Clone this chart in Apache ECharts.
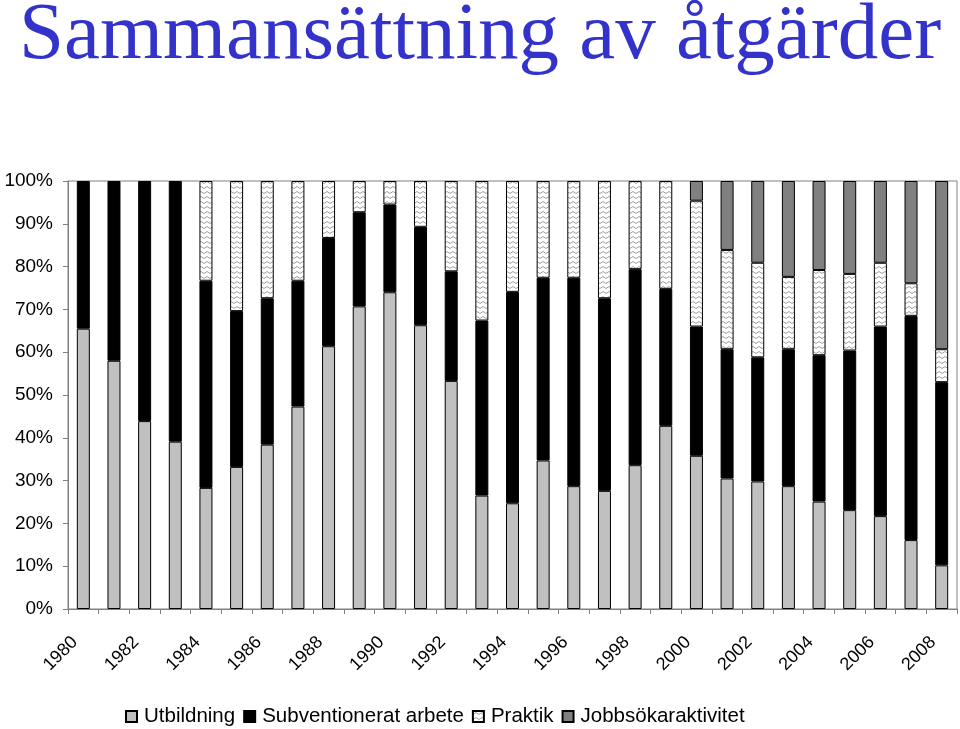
<!DOCTYPE html>
<html>
<head>
<meta charset="utf-8">
<script src="https://cdn.jsdelivr.net/npm/echarts@6/dist/echarts.min.js"></script>
<style>
html,body{margin:0;padding:0;background:#fff;}
#chart{width:960px;height:729px;}
</style>
</head>
<body>
<div id="chart"></div>
<script>
const titleText = 'Sammansättning av åtgärder';
const categories = ['1980','1981','1982','1983','1984','1985','1986','1987','1988','1989','1990','1991','1992','1993','1994','1995','1996','1997','1998','1999','2000','2001','2002','2003','2004','2005','2006','2007','2008'];
const seriesNames = ['Utbildning','Subventionerat arbete','Praktik','Jobbsökaraktivitet'];
const utbildning = [65.5,58.0,43.9,39.1,28.3,33.2,38.4,47.3,61.4,70.7,74.0,66.3,53.3,26.5,24.7,34.7,28.7,27.6,33.6,42.8,35.8,30.5,29.8,28.7,25.1,23.1,21.7,16.1,10.2];
const subventionerat = [34.5,42.0,56.1,60.9,48.4,36.4,34.2,29.4,25.3,22.0,20.5,23.0,25.6,40.9,49.4,42.7,48.7,45.0,45.8,32.0,30.2,30.2,29.0,32.0,34.2,37.3,44.3,52.4,42.8];
const praktik = [null,null,null,null,23.3,30.4,27.4,23.3,13.3,7.3,5.5,10.7,21.1,32.6,25.9,22.6,22.6,27.4,20.6,25.2,29.4,23.2,22.1,16.9,19.9,17.9,14.9,7.6,7.7];
const jobbsok = [null,null,null,null,null,null,null,null,null,null,null,null,null,null,null,null,null,null,null,null,4.6,16.1,19.1,22.4,20.8,21.7,19.1,23.9,39.3];
const yTicks = [0,10,20,30,40,50,60,70,80,90,100];

// zigzag pattern for Praktik
const pc = document.createElement('canvas');
pc.width = 6; pc.height = 5;
const px = pc.getContext('2d');
px.fillStyle = '#ffffff';
px.fillRect(0,0,6,5);
px.strokeStyle = '#a0a0a0';
px.lineWidth = 1;
px.beginPath();
px.moveTo(0,3.5); px.lineTo(3,1.5); px.lineTo(6,3.5);
px.stroke();
const praktikPattern = {image: pc, repeat: 'repeat'};

const colors = ['#c0c0c0','#000000',praktikPattern,'#808080'];
const dataSets = [utbildning, subventionerat, praktik, jobbsok];

const chart = echarts.init(document.getElementById('chart'));
chart.setOption({
  animation: false,
  backgroundColor: '#ffffff',
  title: {
    text: titleText,
    left: 19, top: -4,
    padding: 0,
    textStyle: {fontFamily: 'Liberation Serif', fontSize: 81, fontWeight: 'normal', color: '#3333cc'}
  },
  legend: {
    data: seriesNames,
    icon: 'rect',
    left: 125, top: 706,
    itemWidth: 11, itemHeight: 11, itemGap: 8,
    padding: 0,
    textStyle: {fontFamily: 'Liberation Sans', fontSize: 20.5, color: '#000', padding: [0,0,0,2]}
  },
  grid: {
    left: 68, right: 3, top: 181, bottom: 120,
    show: true, borderColor: '#808080', borderWidth: 1
  },
  xAxis: {
    type: 'category',
    data: categories,
    boundaryGap: true,
    axisLine: {lineStyle: {color: '#808080', width: 1}},
    axisTick: {show: true, interval: 0, length: 5, lineStyle: {color: '#808080'}},
    axisLabel: {interval: 1, rotate: 45, margin: 22, padding: [0,12,0,0], fontFamily: 'Liberation Sans', fontSize: 18, color: '#000'}
  },
  yAxis: {
    type: 'value',
    min: yTicks[0], max: yTicks[yTicks.length-1], interval: 10,
    axisLine: {show: true, lineStyle: {color: '#808080', width: 1}},
    axisTick: {show: true, length: 5, lineStyle: {color: '#808080'}},
    splitLine: {show: false},
    axisLabel: {formatter: '{value}%', margin: 15, fontFamily: 'Liberation Sans', fontSize: 19, color: '#000'}
  },
  series: seriesNames.map((n,i) => ({
    name: n,
    type: 'bar',
    stack: 'total',
    barWidth: 13,
    data: dataSets[i],
    itemStyle: {color: colors[i], borderColor: '#000', borderWidth: 1}
  }))
});
</script>
</body>
</html>
